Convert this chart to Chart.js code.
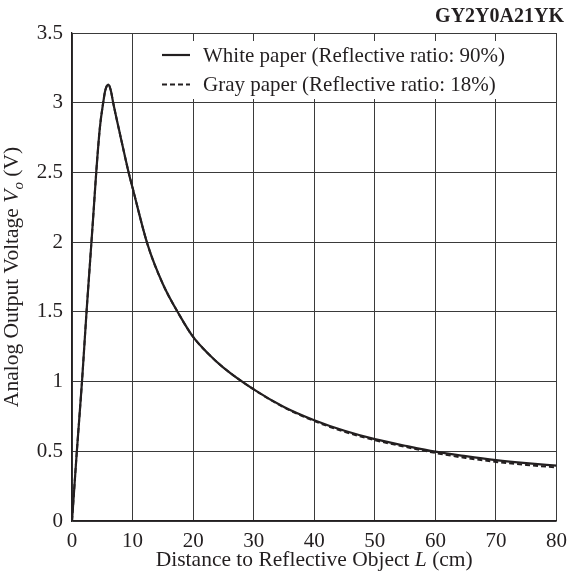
<!DOCTYPE html>
<html>
<head>
<meta charset="utf-8">
<script src="https://cdn.jsdelivr.net/npm/chart.js@4.4.0/dist/chart.umd.min.js"></script>
<style>
  html, body { margin: 0; padding: 0; background: #fff; }
</style>
</head>
<body>
<canvas id="sensorChart" width="575" height="578"></canvas>
<script>
// Output voltage vs. distance, GY2Y0A21YK
const distance = [0, 0.8, 1.65, 2.4, 3, 3.5, 4, 4.6, 5.15, 5.5, 6, 6.4, 6.8, 8, 9.35, 10, 12.5, 15, 17.7, 20, 22.5, 25, 30, 35, 40, 45, 50, 55, 60, 65, 70, 75, 80];
const whitePaper = [0, 0.5, 1.0, 1.5, 1.87, 2.18, 2.5, 2.82, 3.0, 3.09, 3.13, 3.09, 3.0, 2.76, 2.5, 2.39, 1.98, 1.70, 1.48, 1.32, 1.2, 1.1, 0.944, 0.818, 0.723, 0.647, 0.587, 0.54, 0.497, 0.465, 0.437, 0.415, 0.397];
const grayPaper = [0, 0.5, 1.0, 1.5, 1.87, 2.18, 2.5, 2.82, 3.0, 3.09, 3.13, 3.09, 3.0, 2.76, 2.5, 2.39, 1.98, 1.70, 1.48, 1.32, 1.2, 1.1, 0.944, 0.815, 0.717, 0.64, 0.58, 0.532, 0.488, 0.452, 0.424, 0.402, 0.384];
const seriesLabels = ['White paper (Reflective ratio: 90%)', 'Gray paper (Reflective ratio: 18%)'];
const xTicks = [0, 10, 20, 30, 40, 50, 60, 70, 80];
const yTicks = [0, 0.5, 1, 1.5, 2, 2.5, 3, 3.5];
const chartTitle = 'GY2Y0A21YK';

const ink = '#231f20';
const gridColor = '#3a3a3a';
const serif = "'Liberation Serif', 'Times New Roman', serif";

const toPoints = (ys) => distance.map((d, i) => ({ x: d, y: ys[i] }));

// mixed italic / subscript text, centred on x
function drawRuns(ctx, runs, size, x, y) {
  const fontFor = (st) => (st.includes('i') ? 'italic ' : '') +
    (st.includes('sub') ? Math.round(size * 0.72) : size) + 'px ' + serif;
  let total = 0;
  runs.forEach(([t, st]) => { ctx.font = fontFor(st); total += ctx.measureText(t).width; });
  let cx = x - total / 2;
  ctx.textAlign = 'left';
  ctx.textBaseline = 'alphabetic';
  runs.forEach(([t, st]) => {
    ctx.font = fontFor(st);
    ctx.fillText(t, cx, y + (st.includes('sub') ? size * 0.25 : 0));
    cx += ctx.measureText(t).width;
  });
}

const annotations = {
  id: 'annotations',
  afterDraw(chart) {
    const { ctx, chartArea: a } = chart;
    ctx.save();
    ctx.fillStyle = ink;

    // title, top right
    ctx.font = 'bold 20px ' + serif;
    ctx.textAlign = 'right';
    ctx.textBaseline = 'alphabetic';
    ctx.fillText(chartTitle, 564, 22);

    // axis titles
    drawRuns(ctx, [['Distance to Reflective Object ', ''], ['L', 'i'], [' (cm)', '']], 21.5,
      (a.left + a.right) / 2, 566);
    ctx.save();
    ctx.translate(18, (a.top + a.bottom) / 2);
    ctx.rotate(-Math.PI / 2);
    drawRuns(ctx, [['Analog Output Voltage ', ''], ['V', 'i'], ['o', 'i sub'], [' (V)', '']], 21.5, 0, 0);
    ctx.restore();

    // legend on a white patch inside the plot
    ctx.fillStyle = '#fff';
    ctx.fillRect(150, 41, 405, 58);
    chart.data.datasets.forEach((ds, i) => {
      const rowY = 55 + i * 29.5;
      ctx.strokeStyle = ds.borderColor;
      ctx.lineWidth = ds.borderWidth;
      ctx.setLineDash(ds.borderDash || []);
      ctx.beginPath();
      ctx.moveTo(162, rowY);
      ctx.lineTo(190, rowY);
      ctx.stroke();
      ctx.setLineDash([]);
      ctx.fillStyle = ink;
      ctx.font = '21px ' + serif;
      ctx.textAlign = 'left';
      ctx.fillText(ds.label, 203, rowY + 6.5);
    });
    ctx.restore();
  }
};

const tickFont = { family: serif, size: 21 };

new Chart(document.getElementById('sensorChart'), {
  type: 'line',
  data: {
    datasets: [
      {
        label: seriesLabels[0],
        data: toPoints(whitePaper),
        borderColor: ink,
        borderWidth: 2.2,
        pointRadius: 0,
        cubicInterpolationMode: 'monotone',
        fill: false
      },
      {
        label: seriesLabels[1],
        data: toPoints(grayPaper),
        borderColor: ink,
        borderWidth: 2,
        borderDash: [5, 3],
        pointRadius: 0,
        cubicInterpolationMode: 'monotone',
        fill: false
      }
    ]
  },
  options: {
    responsive: false,
    animation: false,
    devicePixelRatio: 1,
    layout: { padding: { top: 33, right: 8, left: 0, bottom: 0 } },
    plugins: { legend: { display: false }, tooltip: { enabled: false } },
    scales: {
      x: {
        type: 'linear',
        min: 0,
        max: 80,
        afterBuildTicks: (s) => { s.ticks = xTicks.map(v => ({ value: v })); },
        afterFit: (s) => { s.height = 57; },
        grid: { color: gridColor, lineWidth: 1, drawTicks: false },
        border: { color: ink, width: 1.3 },
        ticks: { font: tickFont, color: ink, padding: 8, maxRotation: 0 }
      },
      y: {
        type: 'linear',
        min: 0,
        max: 3.5,
        afterBuildTicks: (s) => { s.ticks = yTicks.map(v => ({ value: v })); },
        afterFit: (s) => { s.width = 72; },
        grid: { color: gridColor, lineWidth: 1, drawTicks: false },
        border: { color: ink, width: 1.3 },
        ticks: { font: tickFont, color: ink, padding: 9, callback: (v) => String(v) }
      }
    }
  },
  plugins: [annotations]
});
</script>
</body>
</html>
